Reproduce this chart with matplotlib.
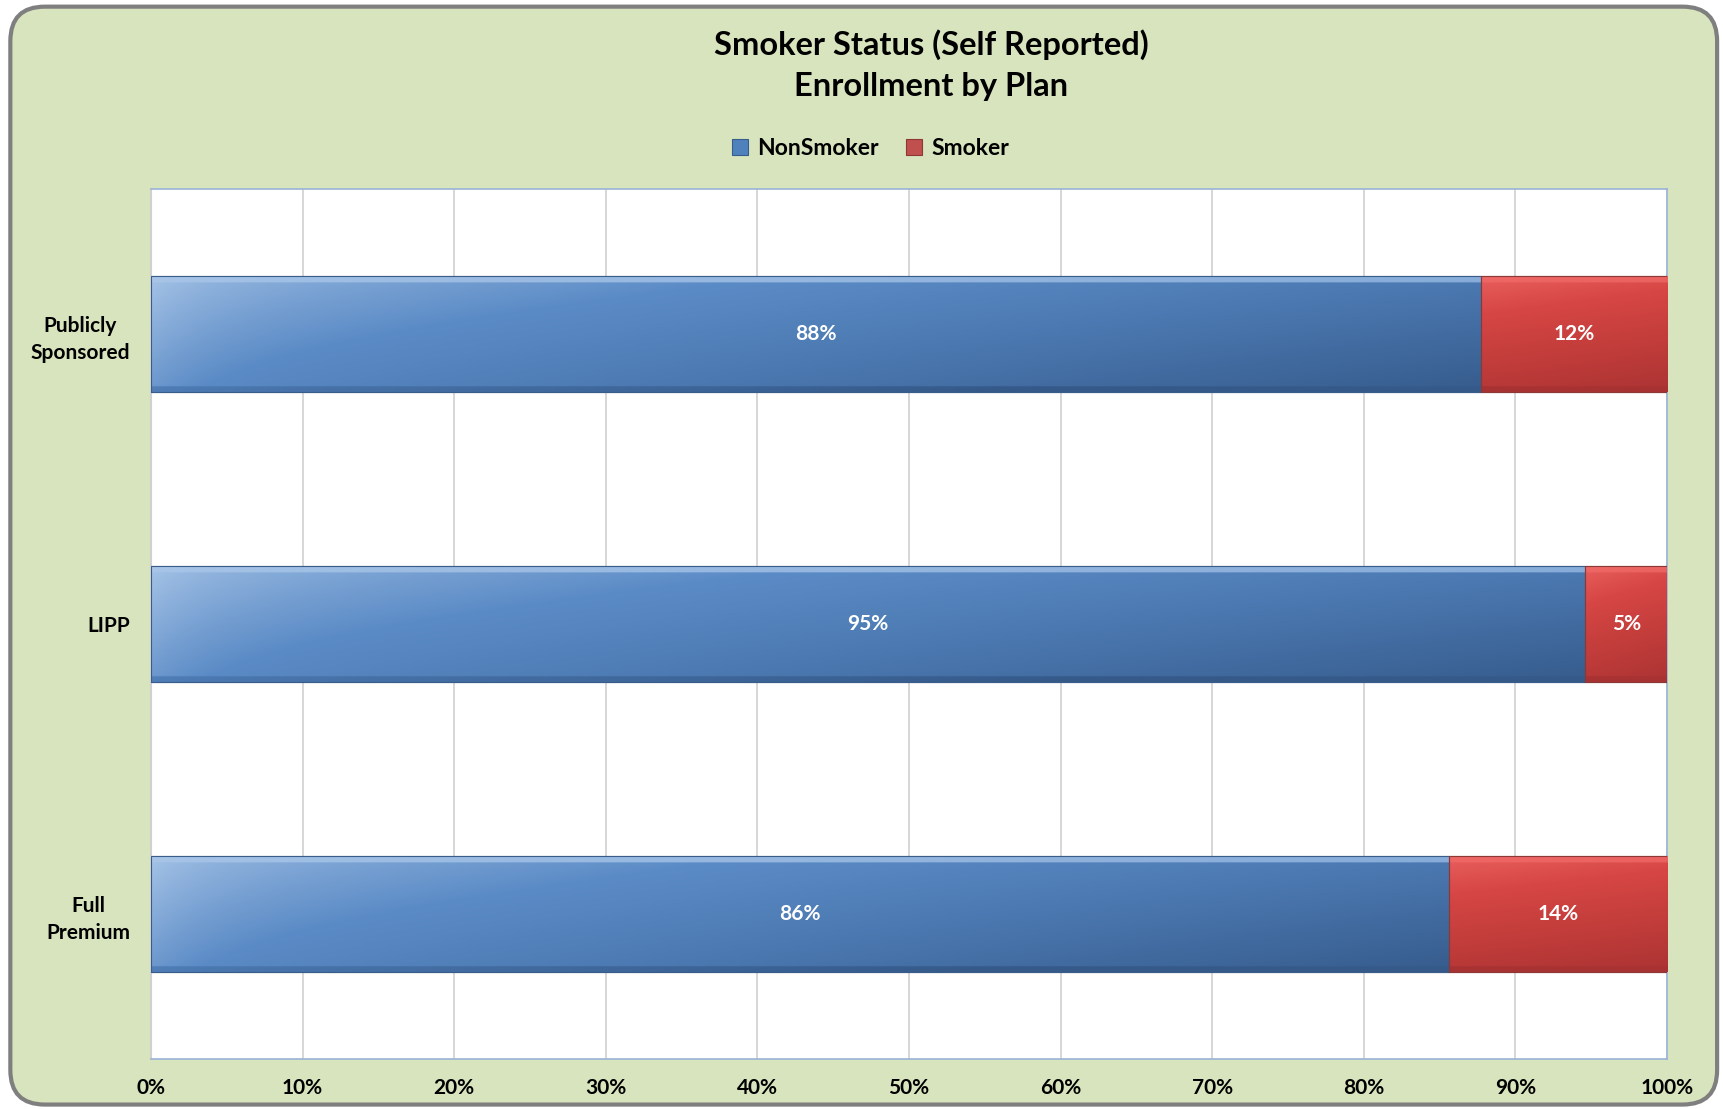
import numpy as np
import matplotlib
matplotlib.use("Agg")
import matplotlib.pyplot as plt
from matplotlib.patches import FancyBboxPatch
from matplotlib.colors import LinearSegmentedColormap

plt.rcParams['font.family'] = ['Lato', 'DejaVu Sans']

plans = ["Full\nPremium", "LIPP", "Publicly\nSponsored"]
nonsmoker = [85.6, 94.6, 87.7]
smoker = [14.4, 5.4, 12.3]
nonsmoker_labels = ["86%", "95%", "88%"]
smoker_labels = ["14%", "5%", "12%"]
xticks = [0, 10, 20, 30, 40, 50, 60, 70, 80, 90, 100]

bg = "#d8e4bd"
fig = plt.figure(figsize=(17.24, 11.09), dpi=100)
fig.patch.set_facecolor("white")
frame = FancyBboxPatch((0.006, 0.004), 0.99, 0.99, boxstyle="round,pad=0,rounding_size=0.02",
                       transform=fig.transFigure, facecolor=bg, edgecolor="#7f7f7f",
                       linewidth=3, zorder=-10, mutation_aspect=1724 / 1109)
fig.patches.append(frame)

ax = fig.add_axes([0.0876, 0.0451, 0.8794, 0.7845])
ax.set_facecolor("white")

y = np.arange(len(plans))
h = 0.4
b1 = ax.barh(y, nonsmoker, height=h, color="#4f81bd", edgecolor="#385d8a", linewidth=0.8,
             label="NonSmoker", zorder=3)
b2 = ax.barh(y, smoker, left=nonsmoker, height=h, color="#c0504d", edgecolor="#8c3836",
             linewidth=0.8, label="Smoker", zorder=3)

# gradient shading to imitate the bevelled bars
blue_cm = LinearSegmentedColormap.from_list("b", ["#a9c6e8", "#5b8bc6", "#4773aa", "#355a8a"])
red_cm = LinearSegmentedColormap.from_list("r", ["#f06a68", "#d64644", "#c03c3a", "#a83232"])
for bars, cm in ((b1, blue_cm), (b2, red_cm)):
    for p in bars:
        x0, y0 = p.get_x(), p.get_y()
        w, hh = p.get_width(), p.get_height()
        gx = np.linspace(0, 1, 300)[None, :]
        gy = np.linspace(0, 1, 80)[:, None]
        if cm is blue_cm:
            grad = 0.45 * gx + 0.25 * (1 - gy) + 0.15 * gx * (1 - gy) + 0.1 * np.exp(-gx / 0.05) * (-1)
            grad = np.clip(grad + 0.12, 0, 1)
        else:
            grad = 0.15 * gx + 0.7 * (1 - gy) + 0.1
        top = 1 - gy[:, 0]
        grad[top < 0.06, :] = grad[top < 0.06, :] * 0.25
        bot = gy[:, 0]
        grad[bot < 0.04, :] = np.minimum(grad[bot < 0.04, :] + 0.25, 1.0)
        im = ax.imshow(grad, cmap=cm, vmin=0, vmax=1, extent=(x0, x0 + w, y0, y0 + hh),
                       origin="lower", aspect="auto", zorder=4, interpolation="bilinear")
        im.set_clip_path(p)
        ax.add_patch(plt.Rectangle((x0, y0), w, hh, fill=False, edgecolor=p.get_edgecolor(),
                                   linewidth=0.8, zorder=5))

for i in range(len(plans)):
    ax.text(nonsmoker[i] / 2, y[i], nonsmoker_labels[i], ha="center", va="center",
            color="white", fontsize=15, fontweight="bold", zorder=6)
    ax.text(nonsmoker[i] + smoker[i] / 2, y[i], smoker_labels[i], ha="center", va="center",
            color="white", fontsize=15, fontweight="bold", zorder=6)

ax.set_xlim(0, 100)
ax.set_ylim(-0.5, 2.5)
ax.set_xticks(xticks)
ax.set_xticklabels([f"{t}%" for t in xticks], fontsize=15, fontweight="bold")
ax.set_yticks(y)
ax.set_yticklabels(plans, fontsize=15, fontweight="bold", multialignment="center",
                   linespacing=1.45)
ax.tick_params(axis="y", length=0, pad=15)
ax.tick_params(axis="x", length=0, pad=14)
ax.grid(axis="x", color="#d0d0d0", linewidth=1.2, zorder=0)
ax.set_axisbelow(True)
for s in ["top", "right", "bottom"]:
    ax.spines[s].set_color("#9ab3d6")
    ax.spines[s].set_linewidth(1.2)
ax.spines["left"].set_color("#d0d0d0")
ax.spines["left"].set_linewidth(1.5)

fig.text(0.54, 0.96, "Smoker Status (Self Reported)", ha="center", va="center",
         fontsize=23.5, fontweight="bold")
fig.text(0.54, 0.922, "Enrollment by Plan", ha="center", va="center",
         fontsize=23.5, fontweight="bold")

leg = fig.legend(handles=[b1, b2], loc="center", bbox_to_anchor=(0.505, 0.866), ncol=2,
                 frameon=False, handlelength=0.7, handleheight=0.7,
                 columnspacing=1.2, handletextpad=0.4, prop={"weight": "bold", "size": 16.5})

fig.savefig("out.png", dpi=100, facecolor=fig.get_facecolor())
